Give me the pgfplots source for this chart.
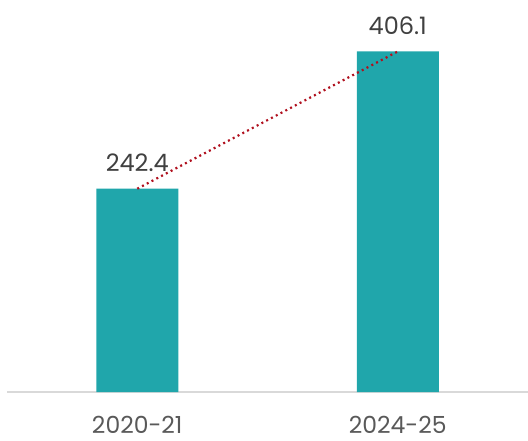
\documentclass[border=0pt]{standalone}
\usepackage{pgfplots}
\pgfplotsset{compat=1.18}
\usepackage{fontspec}
\setmainfont{Poppins}
\definecolor{barteal}{HTML}{20A6AB}
\definecolor{dotred}{HTML}{B0101E}
\definecolor{valgray}{HTML}{404040}
\definecolor{tickgray}{HTML}{595959}
\definecolor{axgray}{HTML}{D9D9D9}
\begin{document}
\begin{tikzpicture}
\path[use as bounding box] (-7bp,-49bp) rectangle (521bp,392bp);
\begin{axis}[
  at={(0,0)}, anchor=south west,
  scale only axis,
  width=521bp, height=392bp,
  xmin=-0.5, xmax=1.5,
  ymin=0, ymax=467.5,
  axis y line=none,
  axis x line*=bottom,
  x axis line style={draw=axgray, line width=1.5bp, -},
  xtick={0,1},
  xticklabels={2020-21,2024-25},
  major tick length=0pt,
  xticklabel style={anchor=base, yshift=-41bp, font=\fontsize{23.5bp}{28bp}\selectfont, text=tickgray},
  clip=false,
]
\addplot[ybar, bar width=82bp, fill=barteal, draw=none,
  nodes near coords,
  every node near coord/.append style={anchor=base, yshift=17bp, font=\fontsize{24bp}{28bp}\selectfont, text=valgray},
  point meta=explicit symbolic]
  coordinates {(0,242.4)[242.4] (1,406.1)[406.1]};
\addplot[dotred, line width=2.2bp, dash pattern=on 2bp off 3.4bp]
  coordinates {(0,242.4) (1,406.1)};
\end{axis}
\end{tikzpicture}
\end{document}
